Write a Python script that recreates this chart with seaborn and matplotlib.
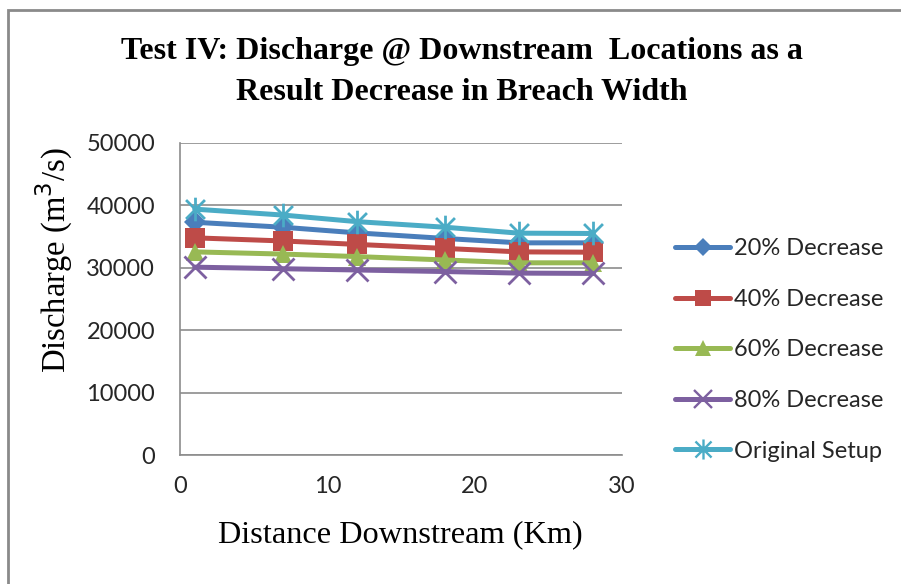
import numpy as np
import pandas as pd
import matplotlib
matplotlib.use("Agg")
import matplotlib.pyplot as plt
from matplotlib.path import Path
from matplotlib.patches import Rectangle
import seaborn as sns

distance_km = [1, 7, 12, 18, 23, 28]
series_names = ["20% Decrease", "40% Decrease", "60% Decrease", "80% Decrease", "Original Setup"]
dec20 = [37300, 36500, 35600, 34700, 34000, 34000]
dec40 = [34800, 34300, 33750, 33100, 32550, 32500]
dec60 = [32550, 32200, 31800, 31250, 30800, 30800]
dec80 = [30100, 29850, 29650, 29400, 29150, 29100]
original = [39400, 38450, 37400, 36500, 35550, 35500]
y_ticks = [0, 10000, 20000, 30000, 40000, 50000]
x_ticks = [0, 10, 20, 30]

colors = ["#4A7EBB", "#BE4B48", "#98B954", "#7D60A0", "#4BACC6"]

rows = []
for name, vals in zip(series_names, [dec20, dec40, dec60, dec80, original]):
    for d, v in zip(distance_km, vals):
        rows.append({"Distance": d, "Discharge": v, "Series": name})
df = pd.DataFrame(rows)

# asterisk marker: vertical line + X
ast = Path([(0, -1), (0, 1), (-0.8, -0.8), (0.8, 0.8), (-0.8, 0.8), (0.8, -0.8)],
           [Path.MOVETO, Path.LINETO, Path.MOVETO, Path.LINETO, Path.MOVETO, Path.LINETO])
seed_markers = {"20% Decrease": "D", "40% Decrease": "s", "60% Decrease": "^",
                "80% Decrease": "X", "Original Setup": "P"}
final_markers = {"20% Decrease": "D", "40% Decrease": "s", "60% Decrease": "^",
                 "80% Decrease": "x", "Original Setup": ast}
msizes = {"20% Decrease": 11, "40% Decrease": 14, "60% Decrease": 13,
          "80% Decrease": 16, "Original Setup": 17}
line_art = ("80% Decrease", "Original Setup")

sns.set_theme(style="white")
plt.rcParams["font.family"] = ["Lato", "DejaVu Sans"]

fig = plt.figure(figsize=(9.01, 5.84), dpi=100)
ax = fig.add_axes([180/901, 1-455/584, (622-180)/901, (455-143)/584])

sns.lineplot(data=df, x="Distance", y="Discharge", hue="Series", style="Series",
             palette=dict(zip(series_names, colors)), markers=seed_markers, dashes=False,
             linewidth=3.6, ax=ax, legend=True)


def style_line(line, name, c, scale=1.0):
    line.set_marker(final_markers[name])
    line.set_markersize(msizes[name] * scale)
    line.set_markeredgecolor(c)
    line.set_markerfacecolor(c)
    line.set_markeredgewidth(2.0 * scale if name in line_art else 0)
    line.set_linewidth(3.6)


for line, name, c in zip(ax.lines[:5], series_names, colors):
    style_line(line, name, c)

ax.set_xlim(0, 30)
ax.set_ylim(0, 50000)
ax.set_xticks(x_ticks)
ax.set_yticks(y_ticks)
ax.tick_params(axis="both", labelsize=17, colors="#262626", length=0)
ax.tick_params(axis="y", pad=18)
ax.tick_params(axis="x", pad=15)
ax.yaxis.grid(True, color="#8c8c8c", linewidth=1.2)
ax.xaxis.grid(False)
for s in ["top", "right"]:
    ax.spines[s].set_visible(False)
for s in ["left", "bottom"]:
    ax.spines[s].set_color("#8c8c8c")
    ax.spines[s].set_linewidth(1.2)

ax.set_xlabel("Distance Downstream (Km)", family="Liberation Serif", fontsize=23.3, color="black")
ax.set_ylabel("Discharge (m$^3$/s)", family="Liberation Serif", fontsize=23.5, color="black")
ax.xaxis.set_label_coords((400-180)/442, (455-520)/312)
ax.yaxis.set_label_coords((75-180)/442, (455-260)/312)

handles, labels = ax.get_legend_handles_labels()
for h, name, c in zip(handles, series_names, colors):
    style_line(h, name, c, 0.85)
ax.legend(handles, labels, loc="center left", bbox_to_anchor=(675/901, 1-350/584),
          bbox_transform=fig.transFigure, frameon=False, fontsize=17,
          handlelength=2.35, handletextpad=0.15, labelspacing=1.25, borderaxespad=0,
          borderpad=0)

fig.text(462/901, 1-52/584, "Test IV: Discharge @ Downstream  Locations as a",
         family="Liberation Serif", fontweight="bold", fontsize=23, ha="center", va="center",
         color="black")
fig.text(462/901, 1-92/584, "Result Decrease in Breach Width",
         family="Liberation Serif", fontweight="bold", fontsize=23, ha="center", va="center",
         color="black")

fig.patches.append(Rectangle((8/901, -0.1), 1.2, 1 - 10/584 + 0.1, transform=fig.transFigure,
                             fill=False, edgecolor="#8a8a8a", linewidth=2.0))

fig.savefig("out.png", dpi=100)
